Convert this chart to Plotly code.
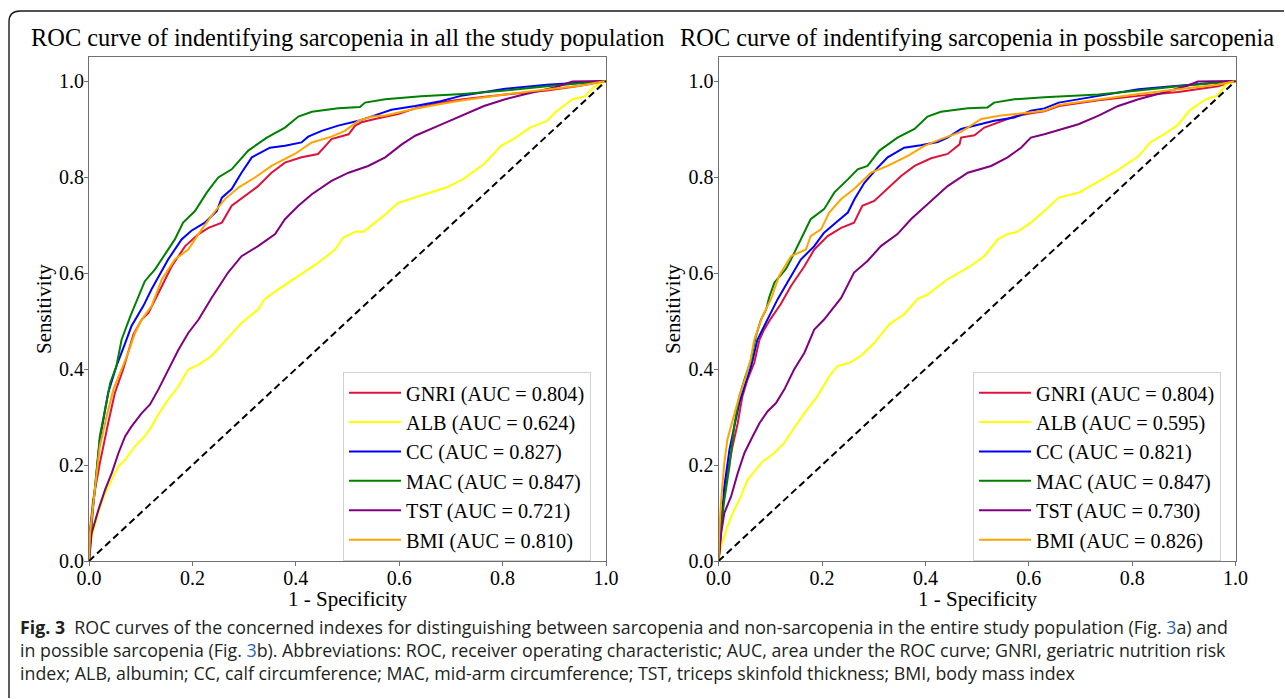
import plotly.graph_objects as go

W, H = 1285, 699

# ---------------- data ----------------
names = ["GNRI", "ALB", "CC", "MAC", "TST", "BMI"]
auc_a = ["0.804", "0.624", "0.827", "0.847", "0.721", "0.810"]
auc_b = ["0.804", "0.595", "0.821", "0.847", "0.730", "0.826"]
colors = ["crimson", "#FFFF00", "#0000FF", "#008000", "#800080", "#FFA500"]

# Panel a: all study population
a_gnri_x = [0, 0.002, 0.008, 0.021, 0.037, 0.050, 0.066, 0.076, 0.086, 0.102, 0.115, 0.141, 0.160, 0.186, 0.212, 0.231, 0.257, 0.276, 0.302, 0.327, 0.353, 0.379, 0.411, 0.443, 0.460, 0.469, 0.502, 0.515, 0.527, 0.553, 0.598, 0.631, 0.680, 0.723, 0.805, 0.886, 0.950, 1.0]
a_gnri_y = [0, 0.065, 0.127, 0.204, 0.287, 0.350, 0.399, 0.434, 0.472, 0.503, 0.517, 0.573, 0.614, 0.656, 0.681, 0.694, 0.705, 0.740, 0.761, 0.781, 0.809, 0.830, 0.841, 0.848, 0.868, 0.879, 0.889, 0.907, 0.914, 0.921, 0.931, 0.943, 0.955, 0.962, 0.972, 0.980, 0.990, 1.0]
a_alb_x = [0, 0.005, 0.018, 0.031, 0.044, 0.057, 0.070, 0.089, 0.108, 0.121, 0.134, 0.153, 0.173, 0.192, 0.212, 0.237, 0.263, 0.295, 0.327, 0.340, 0.366, 0.405, 0.443, 0.476, 0.492, 0.515, 0.531, 0.553, 0.573, 0.598, 0.631, 0.691, 0.723, 0.764, 0.797, 0.821, 0.853, 0.886, 0.902, 0.935, 0.959, 0.976, 1.0]
a_alb_y = [0, 0.051, 0.100, 0.141, 0.169, 0.197, 0.211, 0.239, 0.260, 0.280, 0.305, 0.336, 0.364, 0.399, 0.409, 0.427, 0.458, 0.496, 0.524, 0.546, 0.566, 0.594, 0.621, 0.649, 0.674, 0.686, 0.686, 0.705, 0.722, 0.746, 0.757, 0.778, 0.795, 0.827, 0.865, 0.879, 0.903, 0.917, 0.935, 0.962, 0.968, 0.987, 1.0]
a_cc_x = [0, 0.005, 0.012, 0.021, 0.037, 0.053, 0.070, 0.082, 0.105, 0.121, 0.153, 0.179, 0.198, 0.224, 0.247, 0.257, 0.276, 0.295, 0.315, 0.350, 0.379, 0.411, 0.424, 0.450, 0.482, 0.521, 0.560, 0.585, 0.631, 0.680, 0.723, 0.805, 0.886, 1.0]
a_cc_y = [0, 0.086, 0.155, 0.253, 0.350, 0.406, 0.454, 0.489, 0.531, 0.566, 0.628, 0.670, 0.688, 0.705, 0.729, 0.757, 0.775, 0.809, 0.841, 0.861, 0.865, 0.872, 0.884, 0.896, 0.907, 0.917, 0.931, 0.940, 0.948, 0.958, 0.970, 0.984, 0.992, 1.0]
a_mac_x = [0, 0.008, 0.021, 0.041, 0.053, 0.063, 0.080, 0.092, 0.099, 0.108, 0.128, 0.147, 0.166, 0.182, 0.205, 0.228, 0.250, 0.276, 0.308, 0.344, 0.379, 0.405, 0.431, 0.482, 0.524, 0.534, 0.573, 0.642, 0.723, 0.805, 0.886, 1.0]
a_mac_y = [0, 0.113, 0.260, 0.371, 0.406, 0.461, 0.510, 0.540, 0.559, 0.583, 0.608, 0.639, 0.670, 0.705, 0.729, 0.768, 0.799, 0.816, 0.855, 0.882, 0.903, 0.926, 0.936, 0.943, 0.946, 0.955, 0.962, 0.968, 0.973, 0.980, 0.989, 1.0]
a_tst_x = [0, 0.005, 0.018, 0.031, 0.044, 0.057, 0.070, 0.082, 0.102, 0.118, 0.134, 0.153, 0.173, 0.192, 0.212, 0.237, 0.269, 0.295, 0.327, 0.360, 0.379, 0.405, 0.431, 0.469, 0.502, 0.540, 0.573, 0.605, 0.631, 0.683, 0.723, 0.764, 0.805, 0.845, 0.902, 0.935, 1.0]
a_tst_y = [0, 0.058, 0.106, 0.148, 0.183, 0.225, 0.260, 0.280, 0.308, 0.326, 0.357, 0.399, 0.440, 0.475, 0.503, 0.548, 0.601, 0.635, 0.656, 0.681, 0.712, 0.740, 0.764, 0.792, 0.809, 0.823, 0.841, 0.868, 0.886, 0.910, 0.928, 0.948, 0.962, 0.973, 0.987, 0.999, 1.0]
a_bmi_x = [0, 0.002, 0.012, 0.021, 0.034, 0.047, 0.063, 0.076, 0.089, 0.102, 0.121, 0.141, 0.166, 0.192, 0.218, 0.244, 0.263, 0.289, 0.321, 0.353, 0.398, 0.431, 0.469, 0.495, 0.521, 0.547, 0.573, 0.631, 0.680, 0.723, 0.805, 0.886, 0.949, 1.0]
a_bmi_y = [0, 0.058, 0.155, 0.239, 0.301, 0.357, 0.399, 0.434, 0.475, 0.503, 0.531, 0.587, 0.628, 0.649, 0.691, 0.729, 0.754, 0.778, 0.799, 0.823, 0.848, 0.872, 0.884, 0.896, 0.917, 0.926, 0.928, 0.942, 0.952, 0.960, 0.972, 0.983, 0.990, 1.0]

# Panel b: possible sarcopenia
b_gnri_x = [0, 0.003, 0.008, 0.017, 0.027, 0.037, 0.046, 0.056, 0.069, 0.079, 0.088, 0.101, 0.120, 0.140, 0.166, 0.185, 0.211, 0.237, 0.262, 0.278, 0.301, 0.327, 0.353, 0.379, 0.411, 0.443, 0.466, 0.469, 0.495, 0.514, 0.540, 0.572, 0.604, 0.630, 0.658, 0.735, 0.812, 0.889, 0.966, 1.0]
b_gnri_y = [0, 0.058, 0.113, 0.183, 0.239, 0.287, 0.343, 0.378, 0.413, 0.461, 0.482, 0.505, 0.535, 0.573, 0.614, 0.649, 0.677, 0.694, 0.705, 0.740, 0.750, 0.775, 0.802, 0.823, 0.839, 0.848, 0.868, 0.882, 0.887, 0.903, 0.914, 0.926, 0.933, 0.937, 0.948, 0.960, 0.969, 0.977, 0.989, 1.0]
b_alb_x = [0, 0.005, 0.017, 0.030, 0.043, 0.056, 0.072, 0.085, 0.108, 0.127, 0.146, 0.166, 0.191, 0.214, 0.230, 0.253, 0.275, 0.301, 0.330, 0.359, 0.385, 0.404, 0.443, 0.482, 0.514, 0.540, 0.559, 0.578, 0.604, 0.630, 0.658, 0.696, 0.735, 0.773, 0.812, 0.835, 0.866, 0.889, 0.912, 0.943, 0.966, 0.981, 1.0]
b_alb_y = [0, 0.030, 0.072, 0.106, 0.134, 0.169, 0.190, 0.207, 0.225, 0.246, 0.277, 0.308, 0.343, 0.385, 0.406, 0.413, 0.427, 0.454, 0.493, 0.514, 0.546, 0.555, 0.587, 0.611, 0.635, 0.670, 0.681, 0.686, 0.705, 0.729, 0.757, 0.767, 0.791, 0.815, 0.843, 0.872, 0.892, 0.909, 0.940, 0.962, 0.970, 0.993, 1.0]
b_cc_x = [0, 0.005, 0.011, 0.021, 0.030, 0.040, 0.050, 0.063, 0.075, 0.088, 0.101, 0.114, 0.133, 0.159, 0.185, 0.204, 0.230, 0.250, 0.263, 0.282, 0.308, 0.327, 0.359, 0.391, 0.424, 0.443, 0.469, 0.508, 0.533, 0.572, 0.604, 0.630, 0.658, 0.735, 0.812, 0.889, 1.0]
b_cc_y = [0, 0.072, 0.155, 0.232, 0.280, 0.329, 0.364, 0.406, 0.461, 0.489, 0.515, 0.545, 0.580, 0.628, 0.656, 0.684, 0.708, 0.726, 0.754, 0.788, 0.820, 0.841, 0.861, 0.866, 0.873, 0.882, 0.900, 0.910, 0.917, 0.924, 0.938, 0.943, 0.955, 0.969, 0.983, 0.990, 1.0]
b_mac_x = [0, 0.005, 0.011, 0.021, 0.030, 0.040, 0.050, 0.063, 0.072, 0.082, 0.092, 0.098, 0.108, 0.130, 0.140, 0.159, 0.178, 0.204, 0.224, 0.250, 0.269, 0.288, 0.311, 0.346, 0.379, 0.404, 0.430, 0.482, 0.520, 0.533, 0.572, 0.630, 0.658, 0.735, 0.812, 0.889, 1.0]
b_mac_y = [0, 0.072, 0.127, 0.197, 0.280, 0.343, 0.378, 0.420, 0.468, 0.503, 0.524, 0.550, 0.580, 0.608, 0.628, 0.670, 0.712, 0.733, 0.768, 0.795, 0.816, 0.823, 0.855, 0.882, 0.900, 0.926, 0.936, 0.943, 0.945, 0.955, 0.962, 0.966, 0.968, 0.972, 0.980, 0.989, 1.0]
b_tst_x = [0, 0.005, 0.011, 0.024, 0.037, 0.050, 0.066, 0.079, 0.095, 0.111, 0.127, 0.146, 0.166, 0.185, 0.204, 0.237, 0.262, 0.288, 0.314, 0.346, 0.372, 0.404, 0.443, 0.482, 0.527, 0.559, 0.585, 0.604, 0.630, 0.696, 0.735, 0.773, 0.812, 0.850, 0.904, 0.927, 1.0]
b_tst_y = [0, 0.058, 0.100, 0.134, 0.183, 0.225, 0.260, 0.287, 0.312, 0.329, 0.357, 0.399, 0.434, 0.482, 0.503, 0.548, 0.601, 0.625, 0.656, 0.681, 0.712, 0.743, 0.781, 0.809, 0.823, 0.841, 0.861, 0.882, 0.889, 0.910, 0.928, 0.948, 0.962, 0.973, 0.989, 0.999, 1.0]
b_bmi_x = [0, 0.001, 0.005, 0.011, 0.017, 0.024, 0.030, 0.040, 0.053, 0.062, 0.069, 0.085, 0.101, 0.117, 0.140, 0.169, 0.178, 0.198, 0.214, 0.237, 0.262, 0.295, 0.327, 0.366, 0.398, 0.430, 0.469, 0.508, 0.546, 0.585, 0.630, 0.658, 0.735, 0.812, 0.889, 0.966, 1.0]
b_bmi_y = [0, 0.058, 0.127, 0.204, 0.253, 0.280, 0.308, 0.343, 0.385, 0.420, 0.461, 0.510, 0.545, 0.594, 0.635, 0.649, 0.677, 0.691, 0.726, 0.754, 0.775, 0.809, 0.823, 0.844, 0.865, 0.879, 0.894, 0.921, 0.928, 0.933, 0.938, 0.950, 0.962, 0.973, 0.983, 0.992, 1.0]

diag_x = [0, 1]
diag_y = [0, 1]

tick_vals = [0.0, 0.2, 0.4, 0.6, 0.8, 1.0]
tick_text = ["0.0", "0.2", "0.4", "0.6", "0.8", "1.0"]

title_a = "ROC curve of indentifying sarcopenia in all the study population"
title_b = "ROC curve of indentifying sarcopenia in possbile sarcopenia"
x_label = "1 - Specificity"
y_label = "Sensitivity"
blue_ref = "<span style='color:#2f62b0'>3</span>"
caption_lines = [
    "<b>Fig. 3</b>&nbsp; ROC curves of the concerned indexes for distinguishing between sarcopenia and non-sarcopenia in the entire study population (Fig. " + blue_ref + "a) and",
    "in possible sarcopenia (Fig. " + blue_ref + "b). Abbreviations: ROC, receiver operating characteristic; AUC, area under the ROC curve; GNRI, geriatric nutrition risk",
    "index; ALB, albumin; CC, calf circumference; MAC, mid-arm circumference; TST, triceps skinfold thickness; BMI, body mass index",
]

panel_a = [(a_gnri_x, a_gnri_y), (a_alb_x, a_alb_y), (a_cc_x, a_cc_y),
           (a_mac_x, a_mac_y), (a_tst_x, a_tst_y), (a_bmi_x, a_bmi_y)]
panel_b = [(b_gnri_x, b_gnri_y), (b_alb_x, b_alb_y), (b_cc_x, b_cc_y),
           (b_mac_x, b_mac_y), (b_tst_x, b_tst_y), (b_bmi_x, b_bmi_y)]


# ---------------- helpers (pixel -> paper fraction) ----------------
def px(p):
    return p / W


def py(p):
    return 1 - p / H


SERIF = "Liberation Serif, Times New Roman, serif"
SANS = "Open Sans, Noto Sans, Liberation Sans, sans-serif"

fig = go.Figure()
for panel, aucs, xa, ya, leg in [(panel_a, auc_a, "x", "y", "legend"),
                                 (panel_b, auc_b, "x2", "y2", "legend2")]:
    for (xs, ys), nm, auc, col in zip(panel, names, aucs, colors):
        fig.add_trace(go.Scatter(
            x=xs, y=ys, mode="lines", name=f"{nm} (AUC = {auc})",
            line=dict(color=col, width=2), xaxis=xa, yaxis=ya, legend=leg,
            hoverinfo="skip"))
    fig.add_trace(go.Scatter(
        x=diag_x, y=diag_y, mode="lines", showlegend=False,
        line=dict(color="black", width=2, dash="7px,4px"),
        xaxis=xa, yaxis=ya, hoverinfo="skip"))

axis_common = dict(
    showgrid=False, zeroline=False, showline=True, mirror=True, automargin=False,
    linecolor="#707070", linewidth=1.2, ticks="outside", ticklen=4,
    tickcolor="#707070", tickvals=tick_vals, ticktext=tick_text,
    tickfont=dict(family=SERIF, size=20, color="black"),
)
left_dom = [px(89), px(606)]
right_dom = [px(718.6), px(1235.6)]
y_dom = [py(561), py(57)]
legend_common = dict(
    bgcolor="white", bordercolor="#d0d0d0", borderwidth=1,
    font=dict(family=SERIF, size=20.3, color="black"),
    xanchor="left", yanchor="top", tracegroupgap=0, itemwidth=52,
)
fig.update_layout(
    width=W, height=H,
    margin=dict(l=0, r=0, t=0, b=0, pad=0, autoexpand=False),
    paper_bgcolor="white", plot_bgcolor="white",
    xaxis=dict(domain=left_dom, range=[0, 1], anchor="y", **axis_common),
    yaxis=dict(domain=y_dom, range=[0, 1.05], anchor="x", **axis_common),
    xaxis2=dict(domain=right_dom, range=[0, 1], anchor="y2", **axis_common),
    yaxis2=dict(domain=y_dom, range=[0, 1.05], anchor="x2", **axis_common),
    legend=dict(x=px(343), y=py(372), **legend_common),
    legend2=dict(x=px(973), y=py(372), **legend_common),
    showlegend=True,
)

# pull tick labels a little closer to the axes, as in the reference
try:
    fig.update_xaxes(ticklabelstandoff=-5)
    fig.update_yaxes(ticklabelstandoff=-4)
except (ValueError, TypeError):
    pass

annotations = []
for cx, t in [((89 + 606) / 2, title_a), ((718.6 + 1235.6) / 2, title_b)]:
    annotations.append(dict(x=px(cx), y=py(37), xref="paper", yref="paper",
                            text=t, showarrow=False, xanchor="center", yanchor="middle",
                            font=dict(family=SERIF, size=24.4, color="black")))
for cx in [(89 + 606) / 2, (718.6 + 1235.6) / 2]:
    annotations.append(dict(x=px(cx), y=py(599), xref="paper", yref="paper",
                            text=x_label, showarrow=False, xanchor="center", yanchor="middle",
                            font=dict(family=SERIF, size=21, color="black")))
for cx in [44, 673]:
    annotations.append(dict(x=px(cx), y=py(309), xref="paper", yref="paper",
                            text=y_label, showarrow=False, textangle=-90,
                            xanchor="center", yanchor="middle",
                            font=dict(family=SERIF, size=21, color="black")))
for cy, line in zip([627, 650, 673], caption_lines):
    annotations.append(dict(x=px(18), y=py(cy), xref="paper", yref="paper",
                            text=line, showarrow=False, xanchor="left", yanchor="middle",
                            font=dict(family=SANS, size=17.8, color="#231f20")))
fig.update_layout(annotations=annotations)

# outer rounded frame (kept inside the page)
frame_path = (f"M {px(9)},{py(698)} L {px(9)},{py(22)} "
              f"Q {px(9)},{py(11)} {px(20)},{py(11)} L {px(1284)},{py(11)}")
fig.add_shape(type="path", path=frame_path, xref="paper", yref="paper",
              line=dict(color="#1a1a1a", width=1.4))

fig.write_html(
    "out.html",
    config={"displayModeBar": False},
    post_script="document.body.style.margin='0';document.body.style.padding='0';",
)
